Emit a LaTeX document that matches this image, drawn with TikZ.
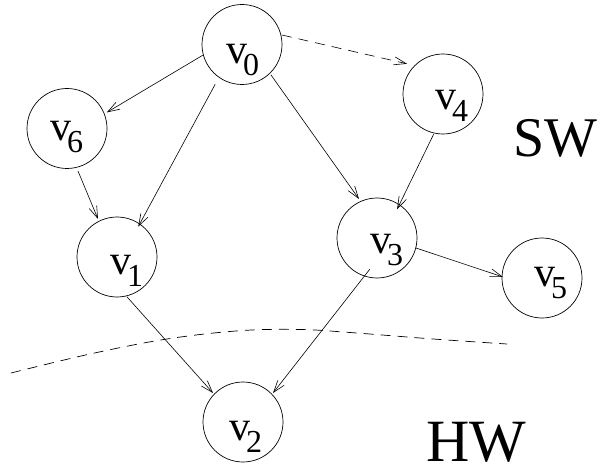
\documentclass[tikz,border=0pt]{standalone}
\usepackage{fontspec}
\setmainfont{Liberation Serif}
\usetikzlibrary{calc,arrows.meta}
\newcommand\vlab[1]{\fontsize{42}{42}\selectfont v\kern-4pt\raisebox{-12pt}{\fontsize{32}{32}\selectfont #1}}
\begin{document}
\begin{tikzpicture}[x=1pt,y=1pt,
  vnode/.style={circle,draw,line width=0.7pt,minimum size=80pt,inner sep=0pt},
  vtext/.style={anchor=base west,inner sep=0pt,outer sep=0pt},
  edge/.style={line width=0.6pt,-{Straight Barb[length=12pt,width=8pt]}},
  sep/.style={line width=0.7pt,dash pattern=on 10pt off 7pt},
  big/.style={anchor=base west,inner sep=0pt,outer sep=0pt,text depth=0pt}]
\useasboundingbox (0,0) rectangle (601,466);
% nodes
\node[vnode] (v0) at (242,421.5) {};
\node[vnode] (v6) at (67,337.5) {};
\node[vnode] (v4) at (443,372) {};
\node[vnode] (v1) at (117,209) {};
\node[vnode] (v3) at (377,228) {};
\node[vnode] (v5) at (542,188) {};
\node[vnode] (v2) at (243,44) {};
% labels
\node[vtext] (t0) at ($(v0)+(-16,-19)$) {\vlab{0}};
\node[vtext] (t6) at ($(v6)+(-17,-12)$) {\vlab{6}};
\node[vtext] (t4) at ($(v4)+(-8,-16)$) {\vlab{4}};
\node[vtext] (t1) at ($(v1)+(-7,-17)$) {\vlab{1}};
\node[vtext] (t3) at ($(v3)+(-7,-16)$) {\vlab{3}};
\node[vtext] (t5) at ($(v5)+(-8,-8)$) {\vlab{5}};
\node[vtext] (t2) at ($(v2)+(-14,-18)$) {\vlab{2}};
\node[big,font=\fontsize{56}{56}\selectfont] (sw) at (513,309) {SW};
\node[big,font=\fontsize{60}{60}\selectfont] (hw) at (426,5) {HW};
% edges
\draw[edge] ($(v0)+(195:40)$) -- ($(v6)+(22:43)$);
\draw[edge] ($(v0)+(236:48)$) -- ($(v1)+(55:37)$);
\draw[edge] ($(v0)+(313.6:42)$) -- ($(v3)+(114.8:43)$);
\draw[edge,dash pattern=on 10pt off 7pt] ($(v0)+(13.4:41)$) -- ($(v4)+(140:47)$);
\draw[edge] ($(v4)+(257:41)$) -- ($(v3)+(55:35)$);
\draw[edge] ($(v6)+(284.5:44)$) -- ($(v1)+(116.6:42.5)$);
\draw[edge] ($(v1)+(284:41)$) -- ($(v2)+(136:41.7)$);
\draw[edge] ($(v3)+(257:32)$) -- ($(v2)+(44:41.7)$);
\draw[edge] ($(v3)+(-14.4:40)$) -- ($(v5)+(178.5:39)$);
% boundary
\draw[sep] plot[smooth,tension=0.6] coordinates {(11,93) (90,112) (167,127) (240,135.3) (300,136.5) (350,133.5) (433,127) (507,122)};
\end{tikzpicture}
\end{document}
